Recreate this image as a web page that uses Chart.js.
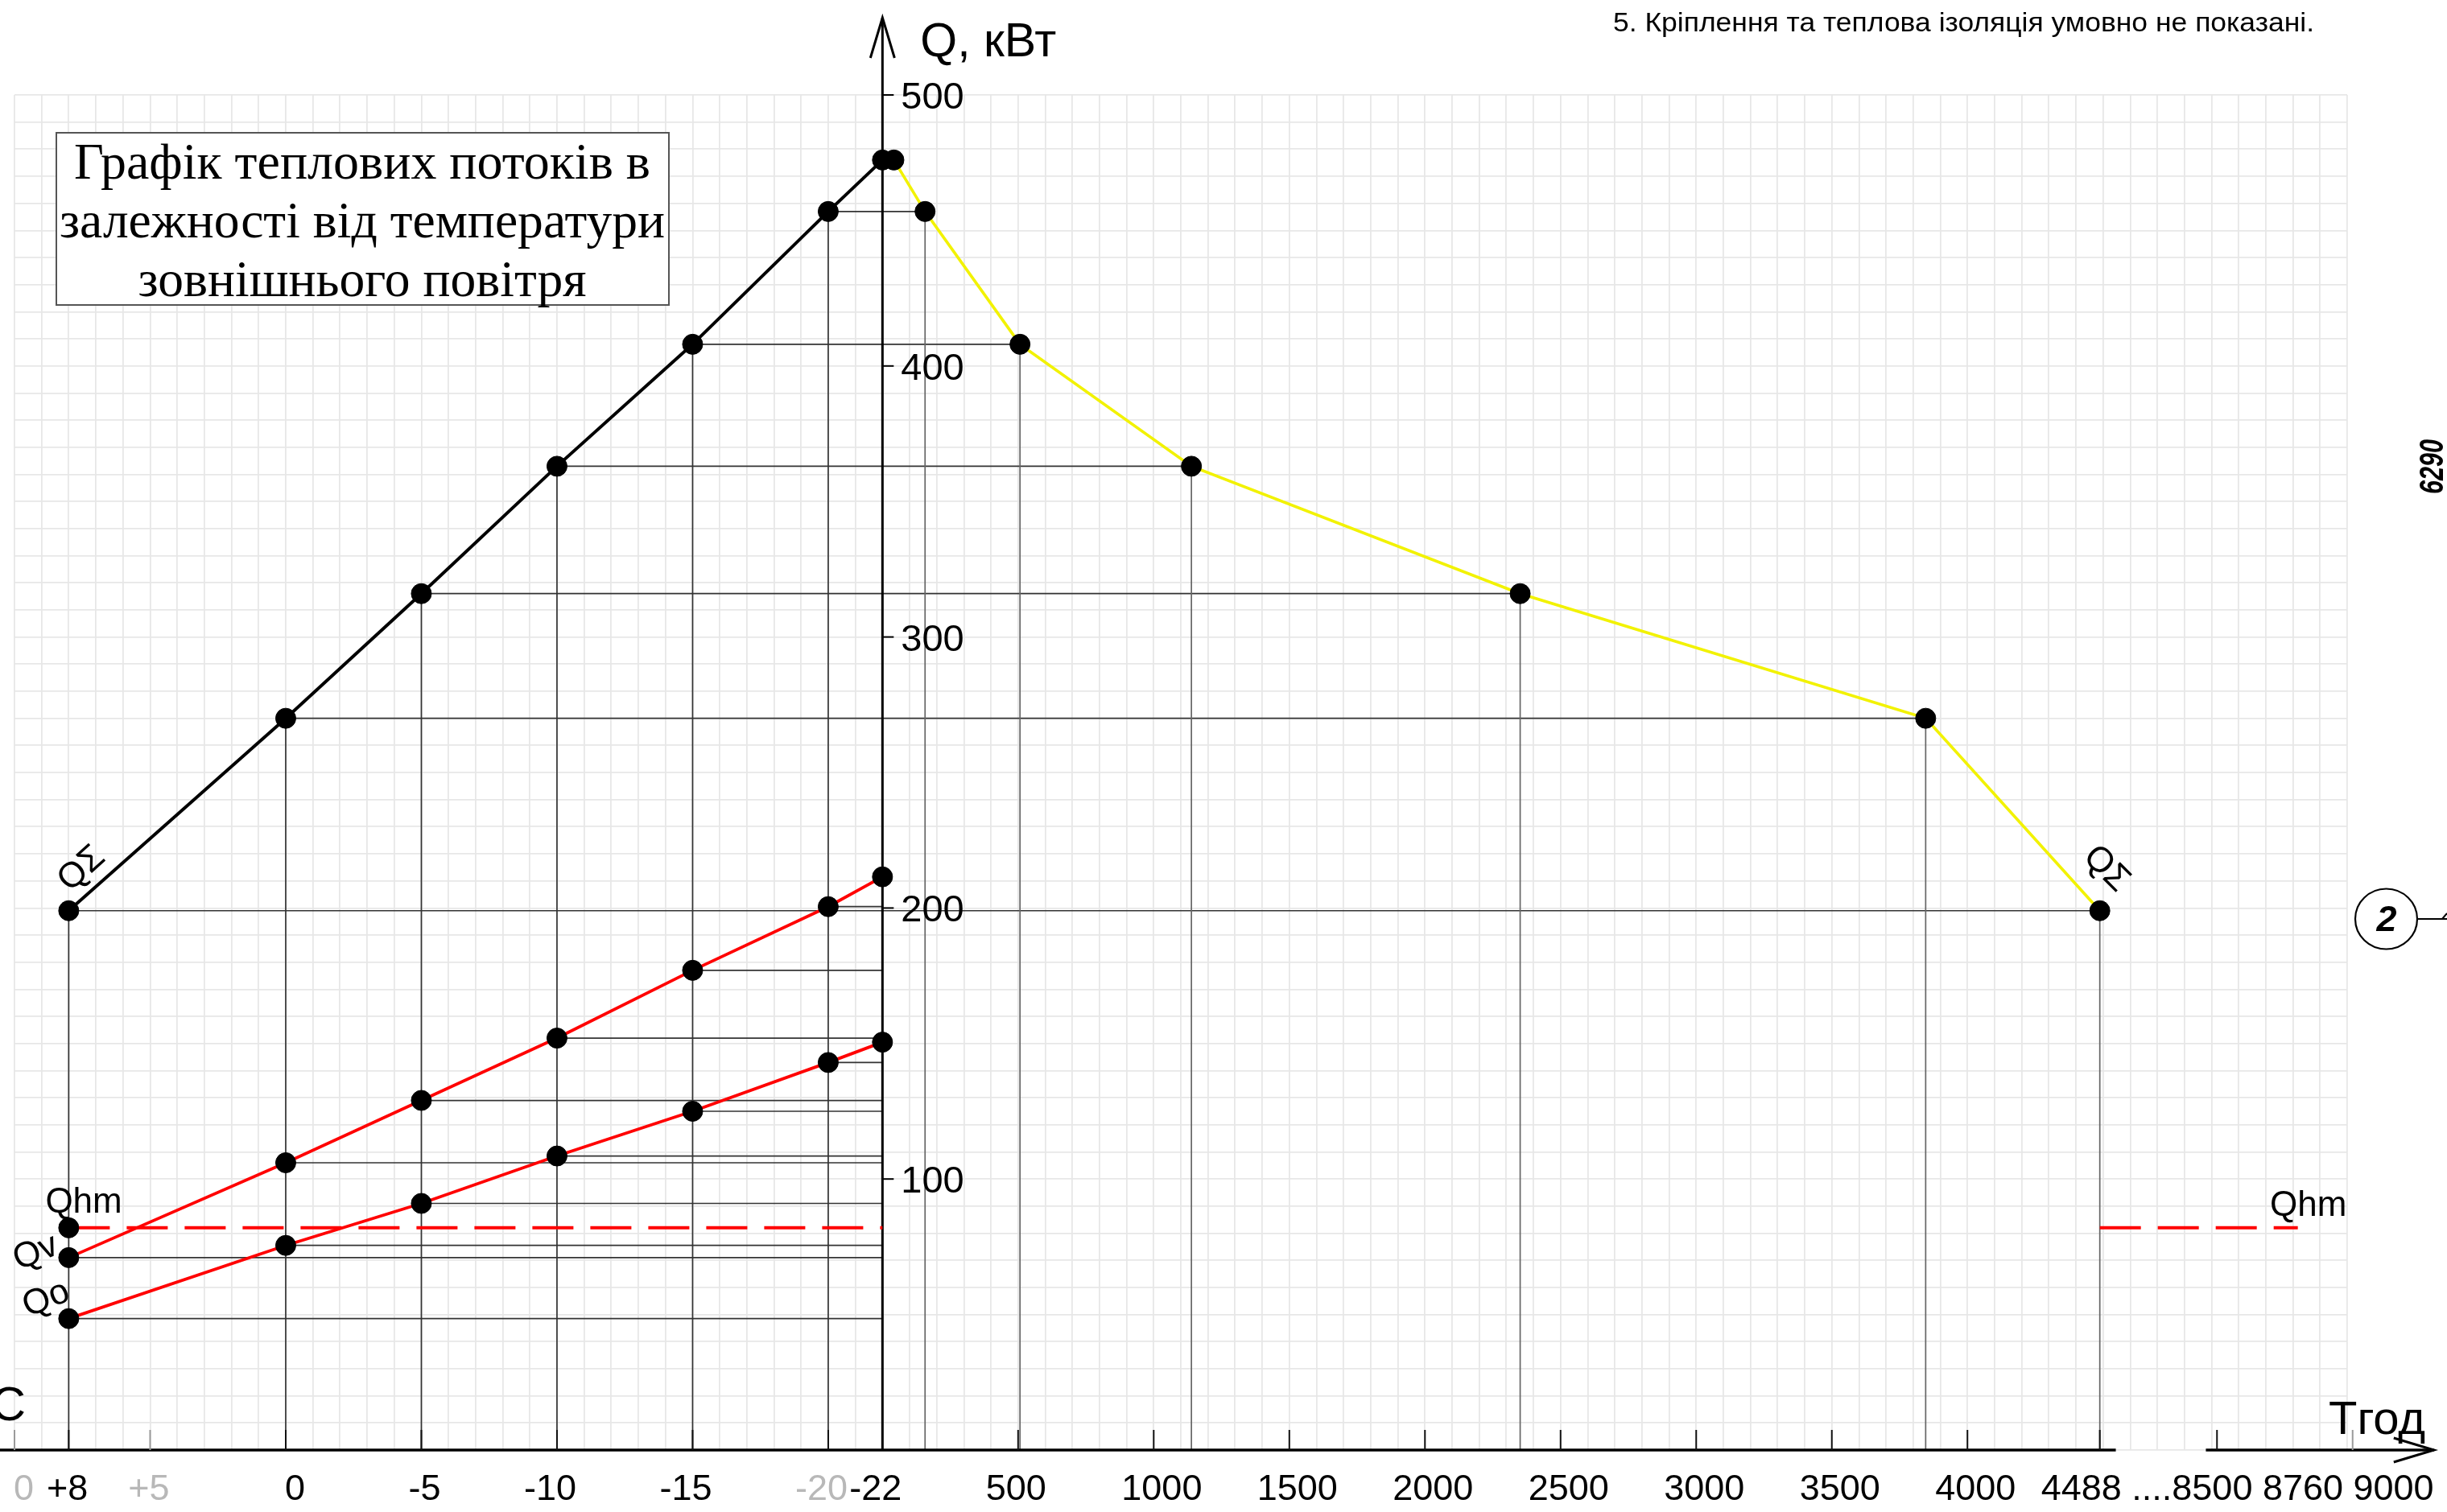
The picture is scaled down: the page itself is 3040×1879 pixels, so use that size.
<!DOCTYPE html>
<html lang="uk">
<head>
<meta charset="utf-8">
<title>Графік теплових потоків</title>
<script src="https://cdn.jsdelivr.net/npm/chart.js@4.4.1/dist/chart.umd.min.js"></script>
<style>
    html, body { margin: 0; padding: 0; background: #fff; }
    canvas { display: block; }
</style>
</head>
<body>
<canvas id="heatChart" width="3040" height="1879"></canvas>
<script>
// Heat flow graph: Q vs outdoor temperature (left) and vs duration in hours (right)

// outdoor temperatures of the calculated points, °C
const tempPoints = [8, 0, -5, -10, -15, -20, -22];
// total heat flow QΣ at those temperatures, kW
const qTotal = [199, 270, 316, 363, 408, 457, 476];
// Qv line (upper red), kW
const qV = [71, 106, 129, 152, 177, 200.5, 211.5];
// Qo line (lower red), kW
const qO = [48.5, 75.5, 91, 108.5, 125, 143, 150.5];
// mean hot water load Qhm, kW
const qHm = 82;
// hours per year with outdoor temperature at or below each point
const hoursAtTemp = [4488, 3846, 2351, 1139, 507, 157, 42];
const qHmRightEnd = 5218;

// axis ticks
const tempTicks = [10, 8, 5, 0, -5, -10, -15, -20];
const tempTickLabels = ['0', '+8', '+5', '0', '-5', '-10', '-15', '-20'];
const greyTemps = [10, 5, -20];
const lastTempLabel = '-22';
const hourTicks = [500, 1000, 1500, 2000, 2500, 3000, 3500, 4000];
const hourTail = '4488 ....8500 8760 9000';
const breakTicks = [8500, 9000];
const qTicks = [100, 200, 300, 400, 500];

// one axis for both halves: 1 °C takes the same room as 100 h, -22 °C sits on 0 h
const tempToX = t => -(t + 22) * 100;
const BREAK_SHIFT = 3580;           // 8500 h is drawn right after the axis break
const breakToX = h => h - BREAK_SHIFT;
const AXIS_GAP = [4547, 4879];
const AXIS_END = 5720;
const Q_ARROW = 528.5;

const SANS = '"Liberation Sans", Arial, sans-serif';
const SERIF = '"Liberation Serif", "Times New Roman", serif';
const GREY_TEXT = '#b8b8b8';

function drawText(ctx, str, x, y, opts) {
    ctx.save();
    ctx.font = opts.font;
    ctx.fillStyle = opts.color || '#000';
    ctx.textAlign = opts.align || 'left';
    ctx.textBaseline = opts.baseline || 'alphabetic';
    ctx.translate(x, y);
    if (opts.angle) ctx.rotate(opts.angle * Math.PI / 180);
    if (opts.width) {
        const w = ctx.measureText(str).width;
        ctx.scale(opts.width / w, 1);
    }
    ctx.fillText(str, 0, 0);
    ctx.restore();
}

function line(ctx, x1, y1, x2, y2) {
    ctx.beginPath();
    ctx.moveTo(x1, y1);
    ctx.lineTo(x2, y2);
    ctx.stroke();
}

const drawingPlugin = {
    id: 'drawing',
    beforeDraw(chart) {
        const ctx = chart.ctx;
        ctx.save();
        ctx.fillStyle = '#fff';
        ctx.fillRect(0, 0, chart.width, chart.height);
        ctx.restore();
    },
    beforeDatasetsDraw(chart) {
        const ctx = chart.ctx;
        const X = v => chart.scales.x.getPixelForValue(v);
        const Y = v => chart.scales.y.getPixelForValue(v);
        const y0 = Y(0);

        ctx.save();
        // thin construction lines
        ctx.strokeStyle = '#333';
        ctx.lineWidth = 1.7;
        tempPoints.forEach((t, i) => {
            const xt = X(tempToX(t));
            const yq = Y(qTotal[i]);
            if (t !== -22) line(ctx, xt, yq, xt, y0);
            line(ctx, xt, yq, X(hoursAtTemp[i]), yq);
            line(ctx, xt, Y(qV[i]), X(0), Y(qV[i]));
            line(ctx, xt, Y(qO[i]), X(0), Y(qO[i]));
        });
        ctx.strokeStyle = '#666';
        hoursAtTemp.forEach((h, i) => {
            if (i === hoursAtTemp.length - 1) return;
            line(ctx, X(h), Y(qTotal[i]), X(h), y0);
        });

        // axes
        ctx.strokeStyle = '#000';
        ctx.lineWidth = 3.5;
        line(ctx, 0, y0, X(AXIS_GAP[0]), y0);
        line(ctx, X(AXIS_GAP[1]), y0, X(AXIS_END), y0);
        ctx.lineWidth = 3;
        const xa = X(0);
        const ya = Y(Q_ARROW);
        line(ctx, xa, y0, xa, ya);
        ctx.beginPath();
        ctx.moveTo(xa - 15, ya + 50);
        ctx.lineTo(xa, ya);
        ctx.lineTo(xa + 15, ya + 50);
        ctx.stroke();
        const xe = X(AXIS_END);
        ctx.beginPath();
        ctx.moveTo(xe - 50, y0 - 15);
        ctx.lineTo(xe, y0);
        ctx.lineTo(xe - 50, y0 + 15);
        ctx.stroke();

        // x ticks
        ctx.lineWidth = 2;
        tempTicks.forEach(t => {
            ctx.strokeStyle = greyTemps.includes(t) && t !== -20 ? '#9a9a9a' : '#111';
            line(ctx, X(tempToX(t)), y0, X(tempToX(t)), y0 - 25);
        });
        ctx.strokeStyle = '#111';
        hourTicks.concat([hoursAtTemp[0]]).forEach(h => line(ctx, X(h), y0, X(h), y0 - 25));
        breakTicks.forEach((h, i) => {
            ctx.strokeStyle = i === 0 ? '#111' : '#9a9a9a';
            line(ctx, X(breakToX(h)), y0, X(breakToX(h)), y0 - 25);
        });
        // y ticks
        ctx.strokeStyle = '#000';
        qTicks.forEach(q => line(ctx, xa, Y(q), xa + 14, Y(q)));
        ctx.restore();

        // title box
        ctx.save();
        ctx.fillStyle = '#fff';
        ctx.strokeStyle = '#555';
        ctx.lineWidth = 2;
        ctx.fillRect(70, 165, 761, 214);
        ctx.strokeRect(70, 165, 761, 214);
        ctx.restore();
        const titleFont = '63px ' + SERIF;
        drawText(ctx, 'Графік теплових потоків в', 450, 222, { font: titleFont, align: 'center', width: 716 });
        drawText(ctx, 'залежності від температури', 450, 295, { font: titleFont, align: 'center', width: 752 });
        drawText(ctx, 'зовнішнього повітря', 450, 368, { font: titleFont, align: 'center', width: 557 });
    },
    afterDatasetsDraw(chart) {
        const ctx = chart.ctx;
        const X = v => chart.scales.x.getPixelForValue(v);
        const Y = v => chart.scales.y.getPixelForValue(v);
        const y0 = Y(0);
        const xa = X(0);
        const tickFont = '45px ' + SANS;

        // y labels
        qTicks.forEach(q => drawText(ctx, String(q), xa + 23, Y(q) + 17, { font: '47px ' + SANS }));
        drawText(ctx, 'Q, кВт', xa + 47, 70, { font: '59px ' + SANS });

        // x labels, temperature side
        tempTicks.forEach((t, i) => {
            drawText(ctx, tempTickLabels[i], X(tempToX(t)) + 24, y0 + 62, {
                font: tickFont, align: 'right', color: greyTemps.includes(t) ? GREY_TEXT : '#000'
            });
        });
        drawText(ctx, lastTempLabel, xa + 24, y0 + 62, { font: tickFont, align: 'right' });
        // x labels, hours side
        hourTicks.forEach(h => drawText(ctx, String(h), X(h) - 40, y0 + 62, { font: tickFont }));
        drawText(ctx, hourTail, X(hoursAtTemp[0]) - 73, y0 + 62, { font: tickFont });

        drawText(ctx, 'Тгод', 2893, y0 - 20, { font: '58px ' + SANS });
        drawText(ctx, 't, °C', 32, y0 - 37, { font: '60px ' + SANS, align: 'right' });

        // curve labels
        const labelFont = '44px ' + SANS;
        const xl = X(tempToX(tempPoints[0]));
        drawText(ctx, 'QΣ', xl + 16, Y(qTotal[0]) - 52, { font: labelFont, align: 'center', baseline: 'middle', angle: -42 });
        drawText(ctx, 'QΣ', X(hoursAtTemp[0]) + 8, Y(qTotal[0]) - 52, { font: labelFont, align: 'center', baseline: 'middle', angle: 45 });
        drawText(ctx, 'Qhm', xl - 29, Y(qHm) - 19, { font: labelFont });
        drawText(ctx, 'Qhm', 2820, Y(qHm) - 15, { font: labelFont });
        drawText(ctx, 'Qv', xl - 41, Y(qV[0]) - 6, { font: labelFont, align: 'center', baseline: 'middle', angle: -22 });
        drawText(ctx, 'Qo', xl - 28, Y(qO[0]) - 24, { font: labelFont, align: 'center', baseline: 'middle', angle: -22 });

        // drawing notes around the graph
        drawText(ctx, '5. Кріплення та теплова ізоляція умовно не показані.', 2004, 39, { font: '34px ' + SANS, width: 871 });
        drawText(ctx, '6290', 3023, 580, { font: 'italic bold 42px ' + SANS, align: 'center', baseline: 'middle', angle: -90, width: 68 });
        ctx.save();
        ctx.strokeStyle = '#000';
        ctx.lineWidth = 2.2;
        ctx.beginPath();
        ctx.ellipse(2964.5, 1142, 38.5, 37.5, 0, 0, Math.PI * 2);
        ctx.stroke();
        ctx.lineWidth = 2;
        line(ctx, 3003, 1142, 3040, 1142);
        line(ctx, 3034, 1142, 3040, 1135);
        ctx.restore();
        drawText(ctx, '2', 2965, 1145, { font: 'italic bold 45px ' + SANS, align: 'center', baseline: 'middle' });
    }
};

const dotStyle = {
    showLine: true,
    tension: 0,
    pointRadius: 12.5,
    pointBackgroundColor: '#000',
    pointBorderColor: '#000',
    pointBorderWidth: 1,
    clip: false
};

const ctx = document.getElementById('heatChart').getContext('2d');
const heatChart = new Chart(ctx, {
    type: 'scatter',
    data: {
        datasets: [
            Object.assign({
                label: 'QΣ(t)',
                data: tempPoints.map((t, i) => ({ x: tempToX(t), y: qTotal[i] })),
                borderColor: '#000',
                borderWidth: 4
            }, dotStyle),
            Object.assign({
                label: 'QΣ(T)',
                data: hoursAtTemp.map((h, i) => ({ x: h, y: qTotal[i] })),
                borderColor: '#f2f200',
                borderWidth: 3.6
            }, dotStyle),
            Object.assign({
                label: 'Qv',
                data: tempPoints.map((t, i) => ({ x: tempToX(t), y: qV[i] })),
                borderColor: '#ff0000',
                borderWidth: 3.8
            }, dotStyle),
            Object.assign({
                label: 'Qo',
                data: tempPoints.map((t, i) => ({ x: tempToX(t), y: qO[i] })),
                borderColor: '#ff0000',
                borderWidth: 3.8
            }, dotStyle),
            Object.assign({}, dotStyle, {
                label: 'Qhm',
                data: [{ x: tempToX(tempPoints[0]), y: qHm }, { x: 0, y: qHm }],
                borderColor: '#ff0000',
                borderWidth: 4,
                borderDash: [51, 21],
                pointRadius: [12.5, 0]
            }),
            Object.assign({}, dotStyle, {
                label: 'Qhm ',
                data: [{ x: hoursAtTemp[0], y: qHm }, { x: qHmRightEnd, y: qHm }],
                borderColor: '#ff0000',
                borderWidth: 4,
                borderDash: [51, 21],
                pointRadius: 0
            })
        ]
    },
    options: {
        responsive: false,
        devicePixelRatio: 1,
        animation: false,
        layout: { padding: { left: 18, right: 124, top: 118, bottom: 77 } },
        plugins: {
            legend: { display: false },
            tooltip: { enabled: false }
        },
        scales: {
            x: {
                type: 'linear',
                min: -3200,
                max: 5400,
                border: { display: false },
                grid: { color: '#e7e7e7', lineWidth: 1.8, drawTicks: false },
                ticks: { display: false, stepSize: 100 }
            },
            y: {
                type: 'linear',
                min: 0,
                max: 500,
                border: { display: false },
                grid: { color: '#e7e7e7', lineWidth: 1.8, drawTicks: false },
                ticks: { display: false, stepSize: 10 }
            }
        }
    },
    plugins: [drawingPlugin]
});
</script>
</body>
</html>
